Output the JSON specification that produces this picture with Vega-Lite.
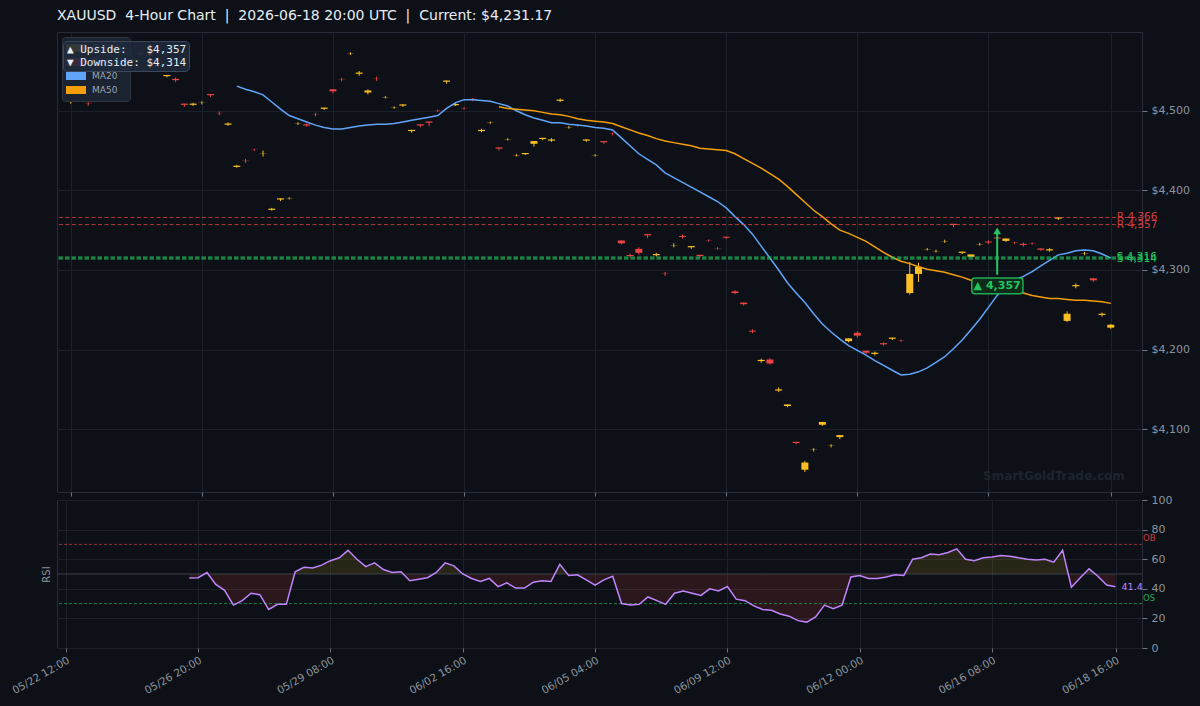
{
"$schema": "https://vega.github.io/schema/vega-lite/v6.json",
"background": "#0d1117",
"padding": {"left": 10, "right": 10, "top": 8, "bottom": 10},
"autosize": {"type": "pad"},
"title": {"text": "XAUUSD\u00a0\u00a04-Hour Chart\u00a0\u00a0|\u00a0\u00a02026-06-18 20:00 UTC\u00a0\u00a0|\u00a0\u00a0Current: $4,231.17", "anchor": "start", "frame": "group", "color": "#e6edf3", "fontSize": 14, "fontWeight": "normal", "font": "DejaVu Sans", "offset": 9},
"config": {
  "view": {"stroke": "#262d38", "fill": "#0d1117"},
  "axis": {"labelFont": "DejaVu Sans", "titleFont": "DejaVu Sans", "labelColor": "#8b949e", "tickColor": "#6e7681", "gridColor": "#1b212a", "domain": false, "labelOverlap": false},
  "text": {"font": "DejaVu Sans"},
  "legend": {"labelFont": "DejaVu Sans"}
},
"datasets": {
"bars": [
{"i":0,"o":4511,"h":4514,"l":4509,"c":4512.5,"d":"Bullish"},
{"i":1,"o":4529,"h":4531,"l":4526,"c":4527.5,"d":"Bearish"},
{"i":2,"o":4509.5,"h":4511.5,"l":4506.5,"c":4509.2,"d":"Bearish"},
{"i":3,"o":4535,"h":4538,"l":4534,"c":4536.5,"d":"Bullish"},
{"i":4,"o":4551,"h":4554,"l":4550,"c":4552.5,"d":"Bullish"},
{"i":5,"o":4562,"h":4563.5,"l":4559,"c":4560.5,"d":"Bearish"},
{"i":6,"o":4550,"h":4551,"l":4546,"c":4548.5,"d":"Bearish"},
{"i":7,"o":4563,"h":4566,"l":4562,"c":4564.5,"d":"Bullish"},
{"i":8,"o":4573,"h":4574,"l":4570,"c":4571.5,"d":"Bearish"},
{"i":9,"o":4571,"h":4572,"l":4568,"c":4569.5,"d":"Bearish"},
{"i":10,"o":4556,"h":4559,"l":4555,"c":4557.5,"d":"Bullish"},
{"i":11,"o":4543.5,"h":4545,"l":4542,"c":4545,"d":"Bullish"},
{"i":12,"o":4540,"h":4542,"l":4536,"c":4538.5,"d":"Bearish"},
{"i":13,"o":4509,"h":4509,"l":4505,"c":4507.5,"d":"Bearish"},
{"i":14,"o":4507.5,"h":4510,"l":4506,"c":4509,"d":"Bullish","rsi":47.3},
{"i":15,"o":4510,"h":4512,"l":4508,"c":4510.2,"d":"Bullish","rsi":47.5},
{"i":16,"o":4521,"h":4521,"l":4517,"c":4519.5,"d":"Bearish","rsi":51},
{"i":17,"o":4497.3,"h":4499,"l":4494.5,"c":4497,"d":"Bearish","rsi":43},
{"i":18,"o":4482.5,"h":4485.5,"l":4481,"c":4484,"d":"Bullish","rsi":39},
{"i":19,"o":4429.5,"h":4432,"l":4428.5,"c":4431,"d":"Bullish","ma20":4531,"rsi":29},
{"i":20,"o":4437.3,"h":4439.5,"l":4434.5,"c":4437,"d":"Bearish","ma20":4527,"rsi":32},
{"i":21,"o":4451.2,"h":4452.5,"l":4449.5,"c":4451,"d":"Bearish","ma20":4524,"rsi":37},
{"i":22,"o":4446,"h":4450,"l":4442.5,"c":4446.3,"d":"Bullish","ma20":4520,"rsi":36},
{"i":23,"o":4375.5,"h":4378,"l":4374.5,"c":4377,"d":"Bullish","ma20":4511,"rsi":26},
{"i":24,"o":4388.5,"h":4390,"l":4386.5,"c":4390,"d":"Bullish","ma20":4502,"rsi":29.5},
{"i":25,"o":4390,"h":4391.5,"l":4388.5,"c":4390.3,"d":"Bullish","ma20":4494,"rsi":29.5},
{"i":26,"o":4483.5,"h":4485.5,"l":4482,"c":4483.8,"d":"Bullish","ma20":4490,"rsi":51.5},
{"i":27,"o":4483,"h":4484,"l":4480,"c":4481.5,"d":"Bearish","ma20":4486,"rsi":54.5},
{"i":28,"o":4495.5,"h":4497.5,"l":4493,"c":4495.2,"d":"Bearish","ma20":4482,"rsi":54},
{"i":29,"o":4502.5,"h":4504,"l":4501,"c":4504,"d":"Bullish","ma20":4479,"rsi":56},
{"i":30,"o":4527,"h":4527,"l":4522,"c":4524.5,"d":"Bearish","ma20":4477,"rsi":59},
{"i":31,"o":4539.5,"h":4541.5,"l":4537,"c":4539.2,"d":"Bearish","ma20":4477,"rsi":61},
{"i":32,"o":4571.5,"h":4573.5,"l":4570,"c":4571.8,"d":"Bullish","ma20":4479,"rsi":66},
{"i":33,"o":4546.5,"h":4550,"l":4544,"c":4548,"d":"Bullish","ma20":4481,"rsi":60},
{"i":34,"o":4523,"h":4527,"l":4520.5,"c":4525.5,"d":"Bullish","ma20":4482,"rsi":55},
{"i":35,"o":4540.8,"h":4543,"l":4537.5,"c":4540.5,"d":"Bearish","ma20":4483,"rsi":57.5},
{"i":36,"o":4517,"h":4518.5,"l":4515.5,"c":4517.3,"d":"Bullish","ma20":4483,"rsi":53},
{"i":37,"o":4504,"h":4505.5,"l":4502.5,"c":4504.3,"d":"Bullish","ma20":4484,"rsi":51},
{"i":38,"o":4506.5,"h":4508,"l":4505,"c":4508,"d":"Bullish","ma20":4486,"rsi":51.5},
{"i":39,"o":4474.5,"h":4476,"l":4472.5,"c":4476,"d":"Bullish","ma20":4488,"rsi":45.5},
{"i":40,"o":4483,"h":4483,"l":4479.5,"c":4481.5,"d":"Bearish","ma20":4490,"rsi":46.5},
{"i":41,"o":4486.5,"h":4486.5,"l":4480.5,"c":4485,"d":"Bearish","ma20":4492,"rsi":47.5},
{"i":42,"o":4500.3,"h":4501.5,"l":4498.5,"c":4500,"d":"Bearish","ma20":4494,"rsi":51},
{"i":43,"o":4536.5,"h":4538,"l":4534,"c":4538,"d":"Bullish","ma20":4503,"rsi":57.5},
{"i":44,"o":4507,"h":4510,"l":4506,"c":4508.5,"d":"Bullish","ma20":4510,"rsi":55.5},
{"i":45,"o":4503.3,"h":4504.5,"l":4501.5,"c":4503,"d":"Bearish","ma20":4514,"rsi":50},
{"i":46,"o":4515,"h":4516,"l":4512,"c":4513.5,"d":"Bearish","ma20":4514,"rsi":47},
{"i":47,"o":4474.5,"h":4477.5,"l":4473,"c":4476,"d":"Bullish","ma20":4513,"rsi":45},
{"i":48,"o":4485,"h":4486.5,"l":4483.5,"c":4485.3,"d":"Bullish","ma20":4512,"rsi":47},
{"i":49,"o":4454,"h":4454,"l":4450,"c":4452.5,"d":"Bearish","ma20":4509,"ma50":4505,"rsi":41.5},
{"i":50,"o":4464,"h":4465.5,"l":4462.5,"c":4464.3,"d":"Bullish","ma20":4506,"ma50":4503,"rsi":44},
{"i":51,"o":4444,"h":4445.5,"l":4442.5,"c":4444.3,"d":"Bullish","ma20":4500,"ma50":4502,"rsi":40.5},
{"i":52,"o":4445.5,"h":4447,"l":4444.5,"c":4447,"d":"Bullish","ma20":4495,"ma50":4501,"rsi":40.5},
{"i":53,"o":4458.5,"h":4462,"l":4455,"c":4462,"d":"Bullish","ma20":4491,"ma50":4500,"rsi":44.5},
{"i":54,"o":4464.5,"h":4466,"l":4463,"c":4466,"d":"Bullish","ma20":4488,"ma50":4498,"rsi":45.5},
{"i":55,"o":4462.5,"h":4465.5,"l":4461,"c":4464,"d":"Bullish","ma20":4485,"ma50":4496,"rsi":45},
{"i":56,"o":4512.5,"h":4515.5,"l":4511,"c":4514,"d":"Bullish","ma20":4485,"ma50":4495,"rsi":56.5},
{"i":57,"o":4479,"h":4481,"l":4477.5,"c":4479.3,"d":"Bullish","ma20":4483,"ma50":4493,"rsi":49},
{"i":58,"o":4481.2,"h":4482,"l":4480,"c":4481,"d":"Bearish","ma20":4482,"ma50":4490,"rsi":49.5},
{"i":59,"o":4462.5,"h":4464,"l":4461,"c":4464,"d":"Bullish","ma20":4481,"ma50":4488,"rsi":46},
{"i":60,"o":4444,"h":4445.5,"l":4442.5,"c":4444.3,"d":"Bullish","ma20":4479,"ma50":4487,"rsi":42.5},
{"i":61,"o":4462,"h":4462,"l":4458.5,"c":4460.5,"d":"Bearish","ma20":4478,"ma50":4486,"rsi":46},
{"i":62,"o":4471.3,"h":4473,"l":4469,"c":4471,"d":"Bearish","ma20":4476,"ma50":4484,"rsi":48.5},
{"i":63,"o":4337,"h":4337,"l":4332,"c":4333.5,"d":"Bearish","ma20":4466,"ma50":4480,"rsi":30},
{"i":64,"o":4318.8,"h":4320.5,"l":4315.5,"c":4317.5,"d":"Bearish","ma20":4456,"ma50":4476,"rsi":29},
{"i":65,"o":4326.5,"h":4328.5,"l":4319,"c":4321.5,"d":"Bearish","ma20":4446,"ma50":4472,"rsi":29.5},
{"i":66,"o":4345,"h":4345,"l":4340,"c":4343.5,"d":"Bearish","ma20":4439,"ma50":4469,"rsi":34.5},
{"i":67,"o":4318.5,"h":4321.5,"l":4317,"c":4320,"d":"Bullish","ma20":4432,"ma50":4465,"rsi":32},
{"i":68,"o":4295.3,"h":4297.5,"l":4292.5,"c":4295,"d":"Bearish","ma20":4422,"ma50":4462,"rsi":29.5},
{"i":69,"o":4331,"h":4333.5,"l":4328.5,"c":4331.3,"d":"Bullish","ma20":4416,"ma50":4460,"rsi":37},
{"i":70,"o":4342.7,"h":4344.5,"l":4339.5,"c":4341.5,"d":"Bearish","ma20":4410,"ma50":4458,"rsi":38.5},
{"i":71,"o":4328.5,"h":4330,"l":4326.5,"c":4330,"d":"Bullish","ma20":4404,"ma50":4456,"rsi":37},
{"i":72,"o":4319,"h":4319,"l":4315.5,"c":4317.5,"d":"Bearish","ma20":4398,"ma50":4453,"rsi":35.5},
{"i":73,"o":4337.3,"h":4338.5,"l":4335.5,"c":4337,"d":"Bearish","ma20":4392,"ma50":4452,"rsi":40},
{"i":74,"o":4327.3,"h":4328.5,"l":4325.5,"c":4327,"d":"Bearish","ma20":4386,"ma50":4451,"rsi":38.5},
{"i":75,"o":4341.8,"h":4341.8,"l":4339,"c":4340.5,"d":"Bearish","ma20":4378,"ma50":4450,"rsi":41.5},
{"i":76,"o":4273,"h":4274.5,"l":4269.5,"c":4271,"d":"Bearish","ma20":4367,"ma50":4446,"rsi":33},
{"i":77,"o":4259,"h":4259,"l":4255,"c":4257,"d":"Bearish","ma20":4357,"ma50":4440,"rsi":32},
{"i":78,"o":4223.7,"h":4225.5,"l":4220.5,"c":4222.5,"d":"Bearish","ma20":4345,"ma50":4434,"rsi":28.5},
{"i":79,"o":4185.5,"h":4188.5,"l":4183.5,"c":4187,"d":"Bullish","ma20":4330,"ma50":4428,"rsi":26},
{"i":80,"o":4187.5,"h":4189,"l":4181,"c":4182.5,"d":"Bearish","ma20":4315,"ma50":4421,"rsi":25.5},
{"i":81,"o":4148.5,"h":4152.5,"l":4146.5,"c":4150,"d":"Bullish","ma20":4300,"ma50":4414,"rsi":23},
{"i":82,"o":4129,"h":4131,"l":4127.5,"c":4131,"d":"Bullish","ma20":4284,"ma50":4405,"rsi":21.5},
{"i":83,"o":4084,"h":4084,"l":4081,"c":4082.5,"d":"Bearish","ma20":4271,"ma50":4395,"rsi":18.5},
{"i":84,"o":4049,"h":4060,"l":4046,"c":4058,"d":"Bullish","ma20":4259,"ma50":4385,"rsi":17.5},
{"i":85,"o":4074,"h":4076,"l":4072,"c":4074.3,"d":"Bullish","ma20":4245,"ma50":4375,"rsi":21},
{"i":86,"o":4105.5,"h":4109,"l":4104,"c":4109,"d":"Bullish","ma20":4232,"ma50":4367,"rsi":29},
{"i":87,"o":4079,"h":4081,"l":4077,"c":4079.3,"d":"Bullish","ma20":4222,"ma50":4358,"rsi":26.5},
{"i":88,"o":4090,"h":4092.5,"l":4087.5,"c":4092.5,"d":"Bullish","ma20":4213,"ma50":4350,"rsi":29},
{"i":89,"o":4210.5,"h":4214,"l":4209,"c":4214,"d":"Bullish","ma20":4205,"ma50":4346,"rsi":48},
{"i":90,"o":4221,"h":4223,"l":4215,"c":4217.5,"d":"Bearish","ma20":4199,"ma50":4341,"rsi":49},
{"i":91,"o":4198.5,"h":4198.5,"l":4194.5,"c":4196,"d":"Bearish","ma20":4193,"ma50":4336,"rsi":47},
{"i":92,"o":4194.5,"h":4197.5,"l":4192.5,"c":4196,"d":"Bullish","ma20":4186,"ma50":4329,"rsi":47},
{"i":93,"o":4208,"h":4209,"l":4205,"c":4206.5,"d":"Bearish","ma20":4180,"ma50":4322,"rsi":48},
{"i":94,"o":4213.5,"h":4215,"l":4212,"c":4215,"d":"Bullish","ma20":4174,"ma50":4316,"rsi":49.5},
{"i":95,"o":4211.3,"h":4212.5,"l":4209.5,"c":4211,"d":"Bearish","ma20":4168,"ma50":4311,"rsi":49},
{"i":96,"o":4271,"h":4310,"l":4269,"c":4295,"d":"Bullish","ma20":4169,"ma50":4308,"rsi":60},
{"i":97,"o":4295,"h":4309,"l":4285,"c":4304,"d":"Bullish","ma20":4172,"ma50":4304,"rsi":61},
{"i":98,"o":4326,"h":4327.5,"l":4324.5,"c":4326.3,"d":"Bullish","ma20":4177,"ma50":4301,"rsi":63.5},
{"i":99,"o":4323.5,"h":4325.5,"l":4322,"c":4323.8,"d":"Bullish","ma20":4184,"ma50":4299,"rsi":63},
{"i":100,"o":4336,"h":4338,"l":4334,"c":4336.3,"d":"Bullish","ma20":4191,"ma50":4297,"rsi":64.5},
{"i":101,"o":4358,"h":4358,"l":4354,"c":4356.5,"d":"Bearish","ma20":4201,"ma50":4294,"rsi":67},
{"i":102,"o":4321.5,"h":4323,"l":4320,"c":4323,"d":"Bullish","ma20":4212,"ma50":4291,"rsi":60},
{"i":103,"o":4316.5,"h":4319.5,"l":4316.5,"c":4319.5,"d":"Bullish","ma20":4225,"ma50":4287,"rsi":59},
{"i":104,"o":4332,"h":4334,"l":4330.5,"c":4332.3,"d":"Bullish","ma20":4238,"ma50":4283,"rsi":61},
{"i":105,"o":4335.7,"h":4337,"l":4332.5,"c":4334.5,"d":"Bearish","ma20":4253,"ma50":4279,"rsi":61.5},
{"i":106,"o":4340.8,"h":4342,"l":4338,"c":4339.5,"d":"Bearish","ma20":4268,"ma50":4276,"rsi":62.5},
{"i":107,"o":4336.5,"h":4339.5,"l":4335.5,"c":4339.5,"d":"Bullish","ma20":4281,"ma50":4274,"rsi":62},
{"i":108,"o":4334.3,"h":4335.5,"l":4332.5,"c":4334,"d":"Bearish","ma20":4287,"ma50":4272,"rsi":61},
{"i":109,"o":4332.8,"h":4334.5,"l":4329.5,"c":4331.5,"d":"Bearish","ma20":4292,"ma50":4271,"rsi":60},
{"i":110,"o":4333.3,"h":4334.5,"l":4331.5,"c":4333,"d":"Bearish","ma20":4298,"ma50":4268,"rsi":59.5},
{"i":111,"o":4327,"h":4327,"l":4324,"c":4325.5,"d":"Bearish","ma20":4305,"ma50":4266,"rsi":60},
{"i":112,"o":4324.5,"h":4327.5,"l":4323,"c":4326,"d":"Bullish","ma20":4312,"ma50":4264,"rsi":58},
{"i":113,"o":4364.5,"h":4366,"l":4363,"c":4366,"d":"Bullish","ma20":4319,"ma50":4264,"rsi":66},
{"i":114,"o":4236,"h":4248,"l":4234.5,"c":4245,"d":"Bullish","ma20":4321,"ma50":4263,"rsi":41},
{"i":115,"o":4279.5,"h":4283,"l":4277,"c":4281,"d":"Bullish","ma20":4324,"ma50":4262,"rsi":47.5},
{"i":116,"o":4320.5,"h":4322.5,"l":4318.5,"c":4320.8,"d":"Bullish","ma20":4325,"ma50":4262,"rsi":53.5},
{"i":117,"o":4289.5,"h":4289.5,"l":4285,"c":4287,"d":"Bearish","ma20":4324,"ma50":4261,"rsi":48.5},
{"i":118,"o":4243.5,"h":4246.5,"l":4241.5,"c":4245,"d":"Bullish","ma20":4320,"ma50":4260,"rsi":42.5},
{"i":119,"o":4227.5,"h":4232,"l":4226,"c":4231.17,"d":"Bullish","ma20":4315,"ma50":4258,"rsi":41.4}
],
"res": [{"lvl":4366,"lab":"R 4,366"},{"lvl":4357,"lab":"R 4,357"}],
"sup": [{"lvl":4316,"lab":"S 4,316"},{"lvl":4314,"lab":"S 4,314"}]
},
"bounds": "flush",
"spacing": 8,
"vconcat": [
{
"width": 1085, "height": 460,
"data": {"name": "bars"},
"layer": [
{"mark": {"type": "rule", "strokeWidth": 1},
 "encoding": {
  "x": {"field": "i", "type": "quantitative", "scale": {"domain": [-1, 122], "nice": false, "zero": false},
        "axis": {"values": [0,15,30,45,60,75,90,105,119], "tickCount": 40, "labels": false, "ticks": true, "tickSize": 4, "grid": true, "domain": false, "title": null}},
  "y": {"field": "l", "type": "quantitative", "scale": {"domain": [4021, 4599], "nice": false, "zero": false},
        "axis": {"orient": "right", "values": [4100,4200,4300,4400,4500], "tickCount": 20, "labelExpr": "'$' + format(datum.value, ',')", "labelFontSize": 11, "tickSize": 5, "labelPadding": 4, "grid": true, "domain": false, "title": null, "labelOverlap": false}},
  "y2": {"field": "h"},
  "color": {"field": "d", "type": "nominal",
    "scale": {"domain": ["Bullish","Bearish","MA20","MA50"], "range": ["#fbbf24","#ef4444","#60a5fa","#f59e0b"]},
    "legend": {"orient": "none", "legendX": 5, "legendY": 5, "title": null, "direction": "vertical",
      "symbolType": "M-1,-0.4H1V0.4H-1Z", "symbolSize": 400, "symbolStrokeWidth": 0,
      "labelFontSize": 9, "labelColor": "#9aa4b2", "labelOffset": 6,
      "fillColor": "#1b2230", "strokeColor": "#2d3542", "cornerRadius": 3, "padding": 4, "rowPadding": 0, "clipHeight": 14, "zindex": 0,
      "encode": {"symbols": {"update": {"fill": {"scale": "color", "field": "value"}, "stroke": {"value": "transparent"}, "opacity": {"value": 1}}}}}}
 }},
{"mark": {"type": "bar", "width": 7},
 "encoding": {
  "x": {"field": "i", "type": "quantitative"},
  "y": {"field": "o", "type": "quantitative"},
  "y2": {"field": "c"},
  "color": {"field": "d", "type": "nominal"}
 }},
{"mark": {"type": "line", "strokeWidth": 1.5},
 "encoding": {"x": {"field": "i", "type": "quantitative"}, "y": {"field": "ma20", "type": "quantitative"}, "color": {"datum": "MA20"}}},
{"mark": {"type": "line", "strokeWidth": 1.5},
 "encoding": {"x": {"field": "i", "type": "quantitative"}, "y": {"field": "ma50", "type": "quantitative"}, "color": {"datum": "MA50"}}},
{"data": {"name": "res"},
 "mark": {"type": "rule", "color": "#ef4444", "strokeWidth": 1, "strokeDash": [4, 2.5], "opacity": 0.75},
 "encoding": {"y": {"field": "lvl", "type": "quantitative"}}},
{"data": {"name": "sup"},
 "mark": {"type": "rule", "color": "#22c55e", "strokeWidth": 1.2, "strokeDash": [4.5, 2], "opacity": 0.85},
 "encoding": {"y": {"field": "lvl", "type": "quantitative"}}},
{"data": {"name": "res"},
 "mark": {"type": "text", "align": "left", "baseline": "middle", "dx": 6, "fontSize": 10.5, "color": "#ef4444", "opacity": 0.85},
 "encoding": {"x": {"datum": 119}, "y": {"field": "lvl", "type": "quantitative"}, "text": {"field": "lab"}}},
{"data": {"name": "sup"},
 "mark": {"type": "text", "align": "left", "baseline": "middle", "dx": 6, "fontSize": 10.5, "color": "#22c55e", "opacity": 0.95},
 "encoding": {"x": {"datum": 119}, "y": {"field": "lvl", "type": "quantitative"}, "text": {"field": "lab"}}},
{"data": {"values": [{}]},
 "mark": {"type": "rule", "color": "#22c55e", "strokeWidth": 2},
 "encoding": {"x": {"datum": 106}, "y": {"datum": 4294}, "y2": {"datum": 4346}}},
{"data": {"values": [{}]},
 "mark": {"type": "point", "shape": "triangle-up", "filled": true, "color": "#22c55e", "size": 60, "opacity": 1},
 "encoding": {"x": {"datum": 106}, "y": {"datum": 4349}}},
{"data": {"values": [{}]},
 "mark": {"type": "rect", "fill": "#0f2a1b", "stroke": "#22c55e", "strokeWidth": 1.5, "cornerRadius": 3, "strokeOpacity": 0.85},
 "encoding": {"x": {"datum": 103.1}, "x2": {"datum": 108.95}, "y": {"datum": 4270}, "y2": {"datum": 4290}}},
{"data": {"values": [{}]},
 "mark": {"type": "text", "text": "▲ 4,357", "fontSize": 11, "fontWeight": "bold", "color": "#22c55e", "align": "center", "baseline": "middle"},
 "encoding": {"x": {"datum": 106}, "y": {"datum": 4280}}},
{"data": {"values": [{}]},
 "mark": {"type": "text", "text": "SmartGoldTrade.com", "fontSize": 12, "fontWeight": "bold", "color": "#1d242e", "align": "right", "baseline": "middle"},
 "encoding": {"x": {"datum": 120.6}, "y": {"datum": 4041}}},
{"data": {"values": [{}]},
 "mark": {"type": "point", "opacity": 0},
 "encoding": {"shape": {"datum": "▲ Upside:\u00a0\u00a0\u00a0$4,357",
   "scale": {"domain": ["▲ Upside:\u00a0\u00a0\u00a0$4,357", "▼ Downside: $4,314"]},
   "legend": {"orient": "none", "legendX": 6, "legendY": 9, "title": null, "direction": "vertical",
     "symbolSize": 0, "symbolOpacity": 0, "symbolStrokeWidth": 0,
     "labelFont": "DejaVu Sans Mono", "labelFontSize": 11, "labelColor": "#e6edf3", "labelOffset": -9, "labelLimit": 300,
     "fillColor": "rgba(30,41,59,0.9)", "strokeColor": "#3a475a", "cornerRadius": 4, "padding": 2, "rowPadding": 0, "clipHeight": 13, "zindex": 1}}}}
]
},
{
"width": 1085, "height": 148,
"data": {"name": "bars"},
"layer": [
{"mark": {"type": "area", "fill": {"gradient": "linear", "x1": 0, "y1": 0, "x2": 0, "y2": 1,
   "stops": [{"offset": 0, "color": "rgba(250,204,21,0.11)"}, {"offset": 0.3434, "color": "rgba(250,204,21,0.11)"}, {"offset": 0.3434, "color": "rgba(239,68,68,0.13)"}, {"offset": 1, "color": "rgba(239,68,68,0.13)"}]}},
 "encoding": {
  "x": {"field": "i", "type": "quantitative", "scale": {"domain": [-1, 122], "nice": false, "zero": false},
        "axis": {"values": [0,15,30,45,60,75,90,105,119], "tickCount": 40,
          "labelExpr": "['05/22 12:00','05/26 20:00','05/29 08:00','06/02 16:00','06/05 04:00','06/09 12:00','06/12 00:00','06/16 08:00','06/18 16:00'][indexof([0,15,30,45,60,75,90,105,119], datum.value)]",
          "labelAngle": -30, "labelAlign": "right", "labelBaseline": "top", "labelFontSize": 10.5, "tickSize": 4, "labelPadding": 3, "grid": true, "domain": false, "title": null, "labelOverlap": false}},
  "y": {"field": "rsi", "type": "quantitative", "scale": {"domain": [0, 100], "nice": false, "zero": false},
        "axis": {"orient": "right", "values": [0,20,40,60,80,100], "tickCount": 20, "labelFontSize": 11, "tickSize": 5, "labelPadding": 4, "grid": true, "domain": false, "labelOverlap": false, "labelFlush": false,
          "title": "RSI", "titleX": -1096, "titleY": 74, "titleAngle": -90, "titleAlign": "center", "titleBaseline": "middle", "titleColor": "#8b949e", "titleFontSize": 10, "titleFontWeight": "normal"}},
  "y2": {"datum": 50}
 }},
{"data": {"values": [{}]}, "mark": {"type": "rule", "color": "#3d434c", "strokeWidth": 1}, "encoding": {"y": {"datum": 50}}},
{"data": {"values": [{}]}, "mark": {"type": "rule", "color": "#ef4444", "strokeWidth": 1, "strokeDash": [3, 2], "opacity": 0.6}, "encoding": {"y": {"datum": 70}}},
{"data": {"values": [{}]}, "mark": {"type": "rule", "color": "#22c55e", "strokeWidth": 1, "strokeDash": [3, 2], "opacity": 0.6}, "encoding": {"y": {"datum": 30}}},
{"mark": {"type": "line", "color": "#c084fc", "strokeWidth": 1.5},
 "encoding": {"x": {"field": "i", "type": "quantitative"}, "y": {"field": "rsi", "type": "quantitative"}}},
{"data": {"values": [{}]},
 "mark": {"type": "text", "text": "41.4", "fontSize": 9.5, "color": "#c084fc", "align": "left", "baseline": "middle", "dx": 6},
 "encoding": {"x": {"datum": 119}, "y": {"datum": 41.4}}},
{"data": {"values": [{}]},
 "mark": {"type": "text", "text": "OB", "fontSize": 8.5, "color": "#ef4444", "opacity": 0.85, "align": "left", "baseline": "alphabetic", "dx": 1, "dy": -3},
 "encoding": {"x": {"datum": 122}, "y": {"datum": 70}}},
{"data": {"values": [{}]},
 "mark": {"type": "text", "text": "OS", "fontSize": 8.5, "color": "#22c55e", "opacity": 0.85, "align": "left", "baseline": "alphabetic", "dx": 1, "dy": -3},
 "encoding": {"x": {"datum": 122}, "y": {"datum": 30}}}
]
}
]
}
